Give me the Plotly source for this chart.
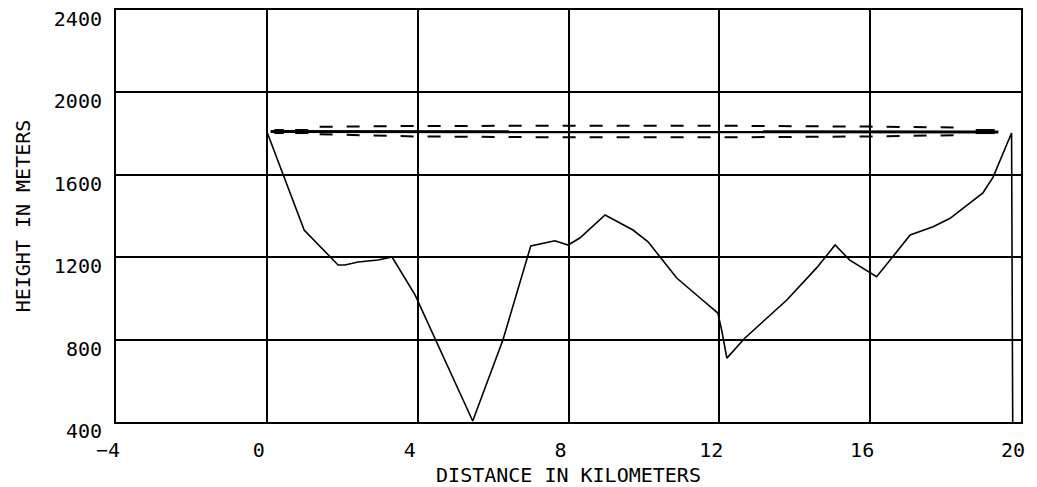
import plotly.graph_objects as go

# terrain profile (km, m)
dist_km = [0.0, 0.99, 1.89, 2.07, 2.42, 2.95, 3.32, 3.93, 5.46, 6.26, 7.0, 7.64, 7.99,
           8.30, 8.97, 9.71, 10.11, 10.87, 11.49, 11.96, 12.06, 12.20, 12.68, 13.26,
           13.79, 14.58, 15.07, 15.46, 16.17, 16.53, 17.06, 17.67, 18.12, 18.99,
           19.26, 19.75, 19.78]
height_m = [1810, 1332, 1162, 1162, 1177, 1186, 1201, 1017, 405, 798, 1255, 1280, 1259,
            1293, 1405, 1332, 1275, 1099, 1002, 929, 847, 710, 808, 905,
            992, 1148, 1259, 1186, 1105, 1186, 1308, 1348, 1389, 1512,
            1589, 1803, 400]

# line of sight
los_km = [0.1, 19.4]
los_m = [1810, 1808]

# zone limits (dashed)
zone_km = [1.4, 4, 8, 12, 16, 18.5]
zone_upper = [1833, 1837, 1838, 1838, 1834, 1829]
zone_lower = [1797, 1786, 1782, 1782, 1786, 1793]

fig = go.Figure()

fig.add_trace(go.Scatter(x=dist_km, y=height_m, mode='lines',
                         line=dict(color='black', width=1.6)))

fig.add_trace(go.Scatter(x=los_km, y=los_m, mode='lines',
                         line=dict(color='black', width=3)))

# heavier bits near the ends of the sight line
for xs in ([0.2, 0.45], [0.75, 1.1], [18.8, 19.3]):
    fig.add_trace(go.Scatter(x=xs, y=[1810, 1810], mode='lines',
                             line=dict(color='black', width=5)))

fig.add_trace(go.Scatter(x=zone_km, y=zone_upper, mode='lines',
                         line=dict(color='black', width=2, dash='13px,14px')))
fig.add_trace(go.Scatter(x=zone_km, y=zone_lower, mode='lines',
                         line=dict(color='black', width=2, dash='13px,14px')))

mono = "DejaVu Sans Mono"

# page body has an 8px margin, so the figure is shrunk by that much
fig.update_layout(
    width=1029, height=479,
    margin=dict(l=108, r=16, t=2, b=65),
    paper_bgcolor='white', plot_bgcolor='white',
    showlegend=False,
    font=dict(family=mono, color='black', size=20),
)

fig.update_xaxes(
    range=[-4, 20], tick0=-4, dtick=4, automargin=False,
    showgrid=True, gridcolor='black', gridwidth=2,
    showline=True, linecolor='black', linewidth=2, mirror=True,
    zeroline=False, ticks='', ticklabelshift=-8, ticklabelstandoff=9,
    title=dict(text="DISTANCE IN KILOMETERS", standoff=8, font=dict(size=20)),
)
fig.update_yaxes(
    range=[400, 2400], tick0=400, dtick=400, automargin=False,
    showgrid=True, gridcolor='black', gridwidth=2,
    showline=True, linecolor='black', linewidth=2, mirror=True,
    zeroline=False, ticks='', ticklabelshift=9, ticklabelstandoff=8,
    ticklabeloverflow='allow',
    title=dict(text="HEIGHT IN METERS", standoff=18, font=dict(size=20)),
)

fig.write_html("out.html")
